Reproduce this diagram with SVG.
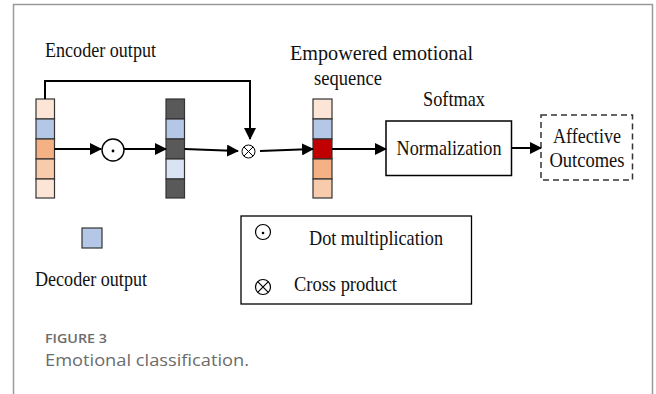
<svg xmlns="http://www.w3.org/2000/svg" width="656" height="394" viewBox="0 0 656 394">
  <style>
    .lbl { font-family: "Liberation Serif", "Times New Roman", serif; font-size: 21px; fill: #111; }
    .cap { font-family: "Open Sans", "Liberation Sans", sans-serif; fill: #6b6b6b; }
    .cell { stroke: #333; stroke-width: 1.2; }
    .wire { fill: none; stroke: #000; stroke-width: 2; }
    .op { fill: #fff; stroke: #000; stroke-width: 1.4; }
  </style>
  <defs>
    <marker id="arrow" viewBox="0 0 12 12" refX="11" refY="6" markerWidth="12" markerHeight="12" markerUnits="userSpaceOnUse" orient="auto">
      <path d="M0,0 L12,6 L0,12 Z" fill="#000"/>
    </marker>
  </defs>

  <rect width="656" height="394" fill="#fff"/>
  <!-- frame -->
  <path d="M13.5,394 V4.5 H652.5 V394" fill="none" stroke="#9a9a9a" stroke-width="1.5"/>

  <!-- labels -->
  <text class="lbl" x="45" y="57" textLength="111" lengthAdjust="spacingAndGlyphs">Encoder output</text>
  <text class="lbl" x="290" y="60" textLength="183" lengthAdjust="spacingAndGlyphs">Empowered emotional</text>
  <text class="lbl" x="348" y="84.5" text-anchor="middle" textLength="68" lengthAdjust="spacingAndGlyphs">sequence</text>
  <text class="lbl" x="454" y="106" text-anchor="middle" textLength="62" lengthAdjust="spacingAndGlyphs">Softmax</text>
  <text class="lbl" x="35" y="286" textLength="112" lengthAdjust="spacingAndGlyphs">Decoder output</text>

  <!-- encoder output vector -->
  <g id="encoder">
    <rect class="cell" x="36" y="99" width="18.5" height="20" fill="#fce5d6"/>
    <rect class="cell" x="36" y="119" width="18.5" height="20" fill="#b4c7e7"/>
    <rect class="cell" x="36" y="139" width="18.5" height="20" fill="#f4b183"/>
    <rect class="cell" x="36" y="159" width="18.5" height="20" fill="#f8cbad"/>
    <rect class="cell" x="36" y="179" width="18.5" height="19" fill="#fce5d6"/>
  </g>

  <!-- dot multiplication -->
  <g id="dot">
    <circle class="op" cx="113" cy="150" r="11"/>
    <circle cx="113" cy="151" r="1.4" fill="#000"/>
  </g>

  <!-- masked vector -->
  <g id="masked">
    <rect class="cell" x="166" y="99" width="18.5" height="20" fill="#595959"/>
    <rect class="cell" x="166" y="119" width="18.5" height="20" fill="#b4c7e7"/>
    <rect class="cell" x="166" y="139" width="18.5" height="20" fill="#595959"/>
    <rect class="cell" x="166" y="159" width="18.5" height="20" fill="#dae3f3"/>
    <rect class="cell" x="166" y="179" width="18.5" height="19" fill="#595959"/>
  </g>

  <!-- cross product -->
  <g id="cross">
    <circle cx="248.5" cy="151.5" r="6.5" fill="#fff" stroke="#000" stroke-width="1"/>
    <path d="M243.9,146.9 L253.1,156.1 M253.1,146.9 L243.9,156.1" stroke="#000" stroke-width="1"/>
  </g>

  <!-- empowered emotional sequence -->
  <g id="empowered">
    <rect class="cell" x="313" y="99" width="19" height="20" fill="#fce5d6"/>
    <rect class="cell" x="313" y="119" width="19" height="20" fill="#b4c7e7"/>
    <rect class="cell" x="313" y="139" width="19" height="20" fill="#c00000"/>
    <rect class="cell" x="313" y="159" width="19" height="20" fill="#f4b183"/>
    <rect class="cell" x="313" y="179" width="19" height="19" fill="#f8cbad"/>
  </g>

  <!-- normalization -->
  <g id="normalization">
    <rect x="386" y="121" width="125.5" height="54.5" fill="#fff" stroke="#000" stroke-width="1.5"/>
    <text class="lbl" x="449" y="155" text-anchor="middle" textLength="105" lengthAdjust="spacingAndGlyphs">Normalization</text>
  </g>

  <!-- affective outcomes -->
  <g id="outcomes">
    <rect x="541" y="115" width="91.5" height="65" fill="#fff" stroke="#333" stroke-width="1.5" stroke-dasharray="6,4"/>
    <text class="lbl" x="587" y="143" text-anchor="middle" textLength="68" lengthAdjust="spacingAndGlyphs">Affective</text>
    <text class="lbl" x="587" y="167" text-anchor="middle" textLength="75" lengthAdjust="spacingAndGlyphs">Outcomes</text>
  </g>

  <!-- decoder output -->
  <g id="decoder">
    <rect x="82" y="228" width="20" height="20" fill="#b4c7e7" stroke="#333" stroke-width="1.2"/>
  </g>

  <!-- legend -->
  <g id="legend">
    <rect x="241" y="216" width="230.5" height="88" fill="#fff" stroke="#000" stroke-width="1.3"/>
    <circle cx="263" cy="232" r="7.5" fill="none" stroke="#000" stroke-width="1.2"/>
    <circle cx="263" cy="233" r="1.3" fill="#000"/>
    <circle cx="263" cy="287" r="7.5" fill="none" stroke="#000" stroke-width="1.2"/>
    <path d="M257.7,281.7 L268.3,292.3 M268.3,281.7 L257.7,292.3" stroke="#000" stroke-width="1.2"/>
    <text class="lbl" x="309" y="245" textLength="134" lengthAdjust="spacingAndGlyphs">Dot multiplication</text>
    <text class="lbl" x="294" y="291" textLength="103" lengthAdjust="spacingAndGlyphs">Cross product</text>
  </g>

  <!-- connectors -->
  <g id="connectors">
    <path class="wire" d="M54.5,149 H101" marker-end="url(#arrow)"/>
    <path class="wire" d="M124,149 H166" marker-end="url(#arrow)"/>
    <path class="wire" d="M184.5,149 L238,151" marker-end="url(#arrow)"/>
    <path class="wire" d="M45,99 V81 H250 V139" marker-end="url(#arrow)"/>
    <path class="wire" d="M260,151 L313,149" marker-end="url(#arrow)"/>
    <path class="wire" d="M332,149 H386" marker-end="url(#arrow)"/>
    <path class="wire" d="M511.5,148 H541" marker-end="url(#arrow)"/>
  </g>

  <!-- caption -->
  <text class="cap" x="45" y="343" font-size="13" font-weight="600" textLength="62" lengthAdjust="spacingAndGlyphs">FIGURE 3</text>
  <text class="cap" x="45" y="366" font-size="17" textLength="204" lengthAdjust="spacingAndGlyphs">Emotional classification.</text>
</svg>
